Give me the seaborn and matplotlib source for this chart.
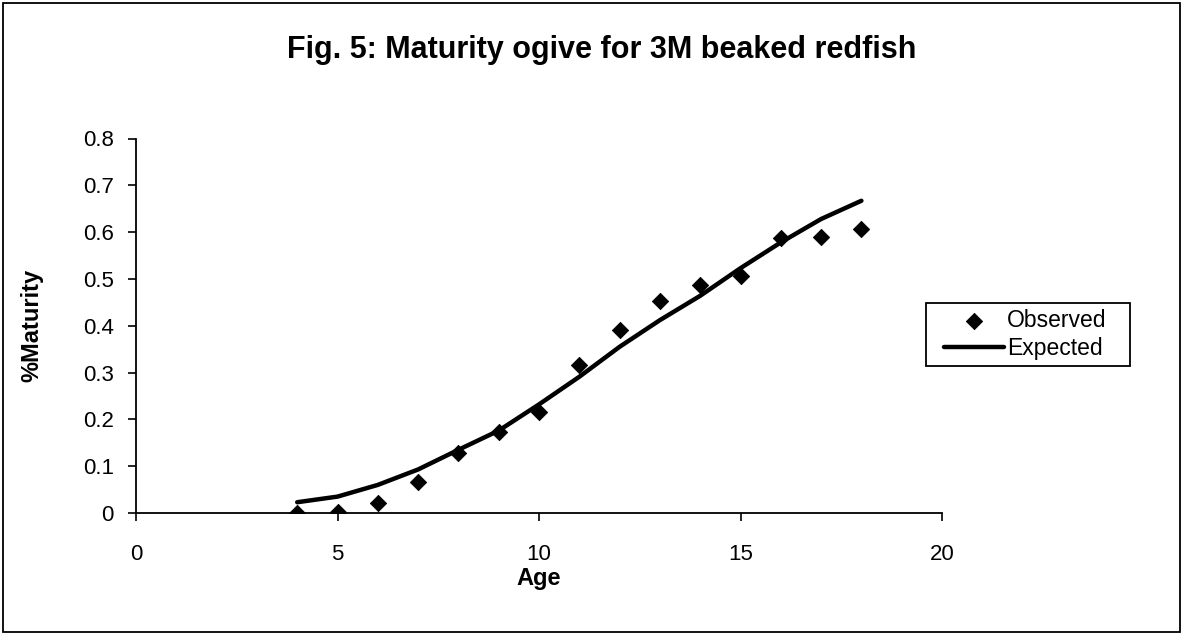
import matplotlib
matplotlib.use("Agg")
import matplotlib.pyplot as plt
import seaborn as sns
import pandas as pd
from matplotlib.patches import Rectangle

ages = [4, 5, 6, 7, 8, 9, 10, 11, 12, 13, 14, 15, 16, 17, 18]
observed = [0.0, 0.003, 0.021, 0.066, 0.128, 0.174, 0.216, 0.316, 0.390,
            0.452, 0.487, 0.506, 0.587, 0.589, 0.606]
expected = [0.023, 0.035, 0.060, 0.093, 0.135, 0.176, 0.232, 0.291, 0.355,
            0.412, 0.464, 0.523, 0.578, 0.628, 0.667]
y_ticks = [0, 0.1, 0.2, 0.3, 0.4, 0.5, 0.6, 0.7, 0.8]
y_tick_labels = ["0", "0.1", "0.2", "0.3", "0.4", "0.5", "0.6", "0.7", "0.8"]
x_ticks = [0, 5, 10, 15, 20]

df = pd.DataFrame({"Age": ages, "Observed": observed, "Expected": expected})

sns.set_style("white")
plt.rcParams["font.family"] = ["Liberation Sans", "DejaVu Sans"]
plt.rcParams["text.color"] = "black"
plt.rcParams["xtick.color"] = "black"
plt.rcParams["ytick.color"] = "black"
plt.rcParams["axes.labelcolor"] = "black"

W, H = 1184, 635
fig = plt.figure(figsize=(W / 100, H / 100), dpi=100)
ax = fig.add_axes([136 / W, 1 - 513 / H, (942 - 136) / W, (513 - 138.5) / H])

sns.lineplot(data=df, x="Age", y="Expected", ax=ax, color="black",
             linewidth=3.2, label="Expected", zorder=2)
sns.scatterplot(data=df, x="Age", y="Observed", ax=ax, color="black",
                marker="D", s=68, edgecolor="black", label="Observed", zorder=3)

handles, labels = ax.get_legend_handles_labels()
ax.get_legend().remove()

ax.set_xlim(0, 20)
ax.set_ylim(0, 0.8)
ax.set_xticks(x_ticks)
ax.set_yticks(y_ticks)
ax.set_yticklabels(y_tick_labels)
ax.tick_params(axis="both", direction="out", length=6, width=1.2,
               labelsize=16, left=True, bottom=True)
ax.tick_params(axis="y", pad=10)
ax.tick_params(axis="x", pad=16)

for side in ["top", "right"]:
    ax.spines[side].set_visible(False)
for side in ["left", "bottom"]:
    ax.spines[side].set_color("black")
    ax.spines[side].set_linewidth(1.3)

ax.set_xlabel("Age", fontsize=17, fontweight="bold")
ax.set_ylabel("%Maturity", fontsize=17, fontweight="bold")
ax.xaxis.label.set_va("center")
ax.yaxis.label.set_va("center")
ax.xaxis.set_label_coords(0.5, -(579 - 513) / 374.5)
ax.yaxis.set_label_coords(-(136 - 32) / 806, (513 - 325) / 374.5)

order = [labels.index("Observed"), labels.index("Expected")]
leg = fig.legend([handles[i] for i in order], [labels[i] for i in order],
                 loc="upper left", bbox_to_anchor=(944 / W, 1 - 309 / H),
                 fontsize=16.5, frameon=False, handlelength=2.6,
                 handletextpad=0.15, borderpad=0, labelspacing=0.22,
                 borderaxespad=0)
fig.patches.append(Rectangle((926 / W, 1 - 366 / H), 204 / W, 63 / H,
                             transform=fig.transFigure, fill=False,
                             edgecolor="black", linewidth=1.3))

fig.suptitle("Fig. 5: Maturity ogive for 3M beaked redfish", x=602 / W,
             y=1 - 58 / H, va="baseline", fontsize=22, fontweight="bold")

fig.patches.append(Rectangle((3 / W, 3 / H), 1177 / W, 629 / H,
                             transform=fig.transFigure, fill=False,
                             edgecolor="black", linewidth=1.3))

fig.savefig("out.png", dpi=100, facecolor="white")
